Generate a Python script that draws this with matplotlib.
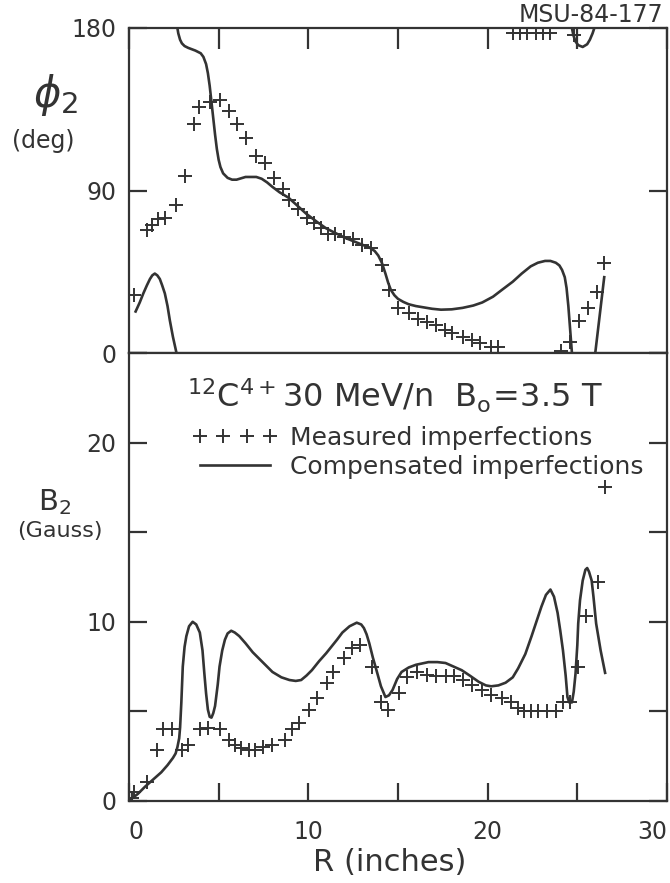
import matplotlib
matplotlib.use('Agg')
import numpy as np
import matplotlib.pyplot as plt
from matplotlib.lines import Line2D
plt.rcParams.update({'font.size': 17, 'font.family': 'DejaVu Sans'})

ink = '#333333'
nan = np.nan

# phase phi_2 (deg) vs R (inches): measured imperfections
phi_meas_r = [0.3, 1.0, 1.3, 1.6, 2.0, 2.6, 3.1, 3.6, 3.9, 4.5, 5.1, 5.6, 6.0, 6.5, 7.1,
              7.6, 8.1, 8.6, 8.9, 9.4, 9.9, 10.3, 10.7, 11.1, 11.5, 12.0, 12.5, 13.0,
              13.5, 14.1, 14.5, 15.0, 15.6, 16.1, 16.6, 17.1, 17.6, 18.0, 18.6, 19.1,
              19.6, 20.2, 20.6, 21.4, 21.8, 22.2, 22.7, 23.1, 23.5, 24.8,
              24.1, 24.6, 25.1, 25.6, 26.1, 26.5]
phi_meas = [32, 68, 71, 74, 75, 82, 98, 127, 136, 139, 140, 134, 127, 119, 109,
            105, 97, 91, 85, 80, 75, 72, 69, 66, 66, 64, 63, 60,
            58, 49, 35, 25, 22, 19, 17, 15.5, 13, 11, 9, 7,
            5.5, 3.5, 3.5, 177, 177, 177, 177, 177, 177, 176,
            1, 6, 18, 25, 34, 50]

# phase phi_2 (deg): compensated imperfections (nan = wrap between 0 and 180)
phi_comp_r = [0.37, 0.6, 0.8, 1.0, 1.17, 1.3, 1.44, 1.58, 1.72, 1.85, 2.0, 2.15, 2.28,
              2.45, 2.65, nan,
              2.7, 2.75, 2.85, 2.95, 3.1, 3.3, 3.7, 4.0, 4.15, 4.3, 4.4, 4.5, 4.6, 4.7,
              4.8, 4.9, 5.0, 5.1, 5.25, 5.5, 5.75, 6.0, 6.5, 7.1, 7.4, 7.7, 8.0, 8.4,
              8.9, 9.4, 9.9, 10.5, 11.0, 11.5, 12.0, 12.5, 13.0, 13.4, 13.7, 13.9,
              14.1, 14.3, 14.45, 14.6, 14.8, 15.0, 15.3, 15.6, 16.0, 16.3, 16.9, 17.4,
              18.0, 18.6, 19.2, 19.7, 20.3, 20.8, 21.4, 21.9, 22.4, 22.8, 23.2, 23.5,
              23.8, 24.0, 24.15, 24.3, 24.4, 24.5, 24.6, 24.7, nan,
              24.7, 24.78, 24.9, 25.05, 25.3, 25.55, 25.7, 25.85, 25.95, nan,
              26.0, 26.25, 26.5]
phi_comp = [23, 28, 33, 37.5, 41, 43, 44, 43, 41, 37.5, 33, 26, 18,
            9, 0, nan,
            180, 177, 173.5, 171.5, 170, 169, 167.5, 166, 164, 160, 155, 148, 139, 130,
            121, 113, 107, 103, 99.5, 97, 96, 96, 97.5, 97.5, 96.5, 94.5, 92, 89,
            86, 81.5, 77, 72.5, 69, 66.5, 64, 62, 60, 58.5, 56.5, 54,
            50, 44, 39, 35, 32, 30, 28.3, 27, 26, 25.5, 24.5, 24,
            24.2, 25, 26.3, 28, 31.2, 35, 39.5, 44, 48, 50, 51, 51,
            50, 48.5, 46, 42, 36, 26, 13, 0, nan,
            180, 176, 172.5, 170.5, 169.5, 171, 173.5, 177, 180, nan,
            0, 21, 42]

# amplitude B_2 (Gauss): measured imperfections
b_meas_r = [0.15, 0.3, 1.0, 1.55, 1.9, 2.4, 2.95, 3.3, 3.95, 4.4, 5.05, 5.6, 5.9, 6.25,
            6.7, 7.0, 7.45, 8.0, 8.7, 9.1, 9.5, 10.05, 10.5, 11.05, 11.4, 12.0, 12.45,
            12.9, 13.55, 14.05, 14.45, 15.05, 15.5, 16.05, 16.6, 17.1, 17.65, 18.1,
            18.65, 19.1, 19.7, 20.2, 20.8, 21.3, 21.7, 22.0, 22.4, 22.8, 23.3, 23.8,
            24.2, 24.6, 25.05, 25.5, 26.15, 26.55]
b_meas = [0.15, 0.5, 1.05, 2.85, 4.0, 4.0, 2.85, 3.1, 4.0, 4.1, 4.0, 3.4, 3.1, 2.95,
          2.85, 2.85, 3.0, 3.1, 3.4, 4.0, 4.35, 5.1, 5.75, 6.6, 7.2, 8.0, 8.55,
          8.7, 7.5, 5.5, 5.1, 6.0, 6.9, 7.2, 7.05, 6.95, 6.95, 6.95,
          6.75, 6.5, 6.2, 5.9, 5.75, 5.55, 5.2, 5.0, 5.0, 5.0, 5.0, 5.0,
          5.55, 5.5, 7.5, 10.3, 12.2, 17.5]

# amplitude B_2 (Gauss): compensated imperfections
b_comp_r = [0.05, 0.5, 0.9, 1.35, 1.8, 2.15, 2.45, 2.6, 2.7, 2.8, 2.85, 2.92, 3.0, 3.1,
            3.2, 3.35, 3.55, 3.75, 3.95, 4.1, 4.2, 4.3, 4.4, 4.5, 4.6, 4.7, 4.8, 4.95,
            5.05, 5.2, 5.35, 5.5, 5.7, 5.9, 6.15, 6.5, 6.9, 7.4, 8.0, 8.5, 8.95, 9.3,
            9.6, 9.9, 10.2, 10.6, 11.0, 11.6, 11.9, 12.3, 12.7, 12.95, 13.1, 13.25,
            13.4, 13.6, 13.8, 14.05, 14.3, 14.5, 14.7, 14.95, 15.2, 15.6, 16.0, 16.7,
            17.2, 17.65, 18.1, 18.55, 19.0, 19.5, 19.9, 20.2, 20.6, 21.0, 21.4, 21.7,
            22.1, 22.45, 22.75, 23.0, 23.25, 23.5, 23.7, 23.9, 24.05, 24.2, 24.35,
            24.45, 24.55, 24.7, 24.8, 24.9, 25.0, 25.05, 25.15, 25.3, 25.45, 25.55,
            25.65, 25.8, 25.9, 26.05, 26.3, 26.55]
b_comp = [0.05, 0.4, 0.8, 1.2, 1.6, 2.0, 2.4, 2.65, 3.0, 3.5, 4.1, 5.5, 7.5, 8.6,
          9.2, 9.75, 10.0, 9.85, 9.4, 8.4, 7.15, 6.0, 5.1, 4.7, 4.65, 4.9, 5.3, 6.5,
          7.5, 8.4, 9.0, 9.35, 9.5, 9.4, 9.2, 8.8, 8.3, 7.8, 7.2, 6.9, 6.75, 6.7,
          6.75, 7.0, 7.3, 7.8, 8.25, 9.0, 9.4, 9.75, 9.95, 9.85, 9.65, 9.3,
          8.8, 8.0, 7.3, 6.4, 5.8, 5.9, 6.2, 6.8, 7.2, 7.45, 7.6, 7.75,
          7.75, 7.7, 7.5, 7.3, 7.0, 6.65, 6.45, 6.4, 6.45, 6.6, 6.9, 7.4,
          8.2, 9.2, 10.1, 10.85, 11.5, 11.8, 11.4, 10.5, 9.5, 8.4, 7.0,
          5.8, 5.5, 5.5, 6.1, 7.1, 8.7, 9.9, 11.2, 12.3, 12.9, 13.0,
          12.8, 12.3, 11.4, 9.9, 8.4, 7.15]

fig = plt.figure(figsize=(6.7, 8.83), dpi=100)
ax1 = fig.add_axes([0.1925, 0.6002, 0.803, 0.3681])
ax2 = fig.add_axes([0.1925, 0.0929, 0.803, 0.5073])

cross = dict(linestyle='none', marker='+', markersize=10, mew=1.4, color=ink)
for ax in (ax1, ax2):
    for s in ax.spines.values():
        s.set_linewidth(1.6)
        s.set_color(ink)
    ax.set_xlim(0, 30)
    ax.tick_params(direction='in', length=13, width=1.6, color=ink, labelcolor=ink, pad=9)

# top panel
ax1.plot(phi_comp_r, phi_comp, color=ink, lw=1.9, solid_joinstyle='round')
ax1.plot(phi_meas_r, phi_meas, **cross)
ax1.set_ylim(0, 180)
ax1.set_yticks([0, 90, 180])
ax1.set_xticks(np.arange(0, 31, 5))
ax1.tick_params(axis='x', top=True, bottom=False, labelbottom=False, length=15)
ax1.tick_params(axis='y', left=True, right=True)
fig.text(0.083, 0.892, '$\\phi_2$', fontsize=30, ha='center', va='center', color=ink)
fig.text(0.065, 0.840, '(deg)', fontsize=17, ha='center', va='center', color=ink)

# bottom panel
ax2.plot(b_comp_r, b_comp, color=ink, lw=1.9, solid_joinstyle='round')
ax2.plot(b_meas_r, b_meas, **cross)
ax2.set_ylim(0, 25)
ax2.set_yticks(np.arange(0, 26, 5))
ax2.set_yticklabels(['0', '', '10', '', '20', ''])
ax2.set_xticks(np.arange(0, 31, 5))
ax2.set_xticklabels(['0', '', '10', '', '20', '', '30'])
ax2.get_xticklabels()[0].set_ha('left')
ax2.get_xticklabels()[-1].set_ha('right')
ax2.tick_params(axis='x', top=False, bottom=True, pad=14)
ax2.tick_params(axis='y', left=True, right=True)
ax2.set_xlabel('R (inches)', fontsize=22, color=ink, labelpad=4)
ax2.xaxis.set_label_coords(0.484, -0.105)
fig.text(0.081, 0.431, '$\\mathregular{B_2}$', fontsize=21, ha='center', va='center', color=ink)
fig.text(0.09, 0.399, '(Gauss)', fontsize=16, ha='center', va='center', color=ink)

# beam / field annotation and key
ax2.text(0.108, 0.879, '$\\mathregular{^{12}C^{4+}30\\ MeV/n\\ \\ B_o\\!=\\!3.5\\ T}$',
         transform=ax2.transAxes, fontsize=23, ha='left', va='baseline', color=ink)
handles = [Line2D([], [], **cross), Line2D([], [], color=ink, lw=1.9)]
leg = ax2.legend(handles, ['Measured imperfections', 'Compensated imperfections'],
                 loc='upper left', bbox_to_anchor=(0.118, 0.837), frameon=False,
                 numpoints=4, handlelength=3.4, handletextpad=0.5, labelspacing=0.2,
                 borderpad=0, borderaxespad=0, fontsize=18)
for t in leg.get_texts():
    t.set_color(ink)

fig.text(0.99, 0.983, 'MSU-84-177', fontsize=17, ha='right', va='center', color=ink)

plt.savefig('out.png', dpi=100)
